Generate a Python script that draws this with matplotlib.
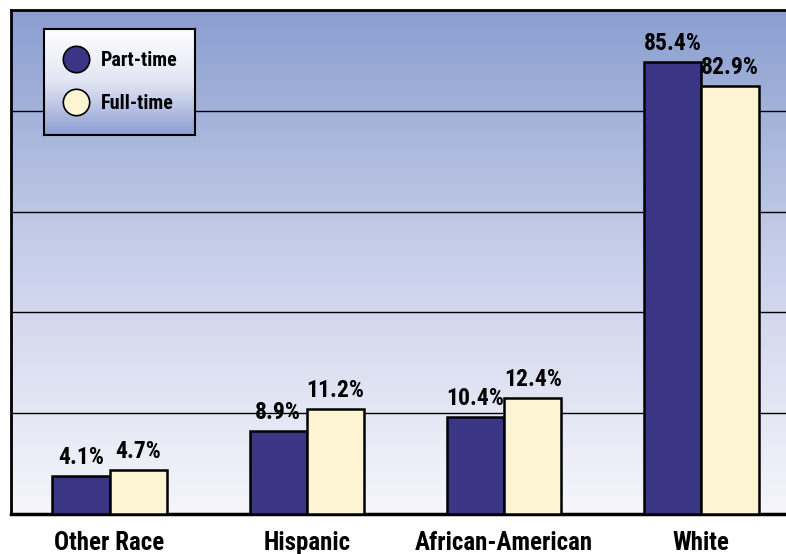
import numpy as np
import matplotlib
matplotlib.use("Agg")
import matplotlib.pyplot as plt
from matplotlib.colors import LinearSegmentedColormap
from matplotlib.lines import Line2D

plt.rcParams['font.family'] = ['Liberation Sans Narrow', 'Roboto Condensed',
                               'Liberation Sans', 'DejaVu Sans']
plt.rcParams['font.weight'] = 'bold'

# data
categories = ["Other Race", "Hispanic", "African-American", "White"]
part_time = [4.1, 8.9, 10.4, 85.4]
full_time = [4.7, 11.2, 12.4, 82.9]
series_names = ["Part-time", "Full-time"]

part_color = "#3a3585"
full_color = "#fdf4d3"

# the original chart squeezes the empty middle of the axis
B1, B2, K = 20.0, 80.0, 0.383


def fwd(y):
    y = np.asarray(y, dtype=float)
    return np.where(y <= B1, y,
                    np.where(y <= B2, B1 + (y - B1) * K,
                             B1 + (B2 - B1) * K + (y - B2)))


def inv(v):
    v = np.asarray(v, dtype=float)
    mid = B1 + (B2 - B1) * K
    return np.where(v <= B1, v,
                    np.where(v <= mid, B1 + (v - B1) / K, B2 + (v - mid)))


fig = plt.figure(figsize=(7.86, 5.54), dpi=100)
ax = fig.add_axes([11 / 786, 40 / 554, 789 / 786, 504 / 554])
ax.set_yscale('function', functions=(fwd, inv))

# gradient background
bg = LinearSegmentedColormap.from_list("bg", ["#f6f6fb", "#c9d0ea", "#8a9ed0"])
ax.imshow(np.linspace(0, 1, 256).reshape(-1, 1), cmap=bg, origin='lower',
          extent=(0, 1, 0, 1), transform=ax.transAxes, aspect='auto', zorder=-2)

x = np.arange(len(categories))
w = 0.29
b1 = ax.bar(x - w / 2, part_time, w, color=part_color, edgecolor='black',
            linewidth=1.8, zorder=3, label=series_names[0])
b2 = ax.bar(x + w / 2, full_time, w, color=full_color, edgecolor='black',
            linewidth=1.8, zorder=3, label=series_names[1])

for bars, vals in [(b1, part_time), (b2, full_time)]:
    for r, v in zip(bars, vals):
        ax.annotate(f"{v}%", (r.get_x() + r.get_width() / 2, r.get_height()),
                    xytext=(0, 5), textcoords='offset points', ha='center',
                    va='bottom', fontsize=17, fontweight='bold', zorder=4)

ymax = 91
ax.set_xlim(-0.5, 3.5)
ax.set_ylim(0, ymax)
ax.set_yticks(inv(np.linspace(0, fwd(ymax), 6)[1:-1]))
ax.set_yticklabels([])
ax.tick_params(axis='y', length=0)
ax.grid(axis='y', color='black', linewidth=1)
ax.set_axisbelow(True)

ax.set_xticks(x)
ax.set_xticklabels(categories, fontsize=18, fontweight='bold')
ax.tick_params(axis='x', length=0, pad=12)

for s in ['left', 'top']:
    ax.spines[s].set_linewidth(2)
ax.spines['bottom'].set_linewidth(2.5)
ax.spines['right'].set_visible(False)

# legend box with its own gradient
lax = fig.add_axes([44 / 786, 1 - 135 / 554, 151 / 786, 106 / 554])
lg = LinearSegmentedColormap.from_list("lg", ["#8c9ed2", "#e2e5f4", "#ffffff"])
lax.imshow(np.linspace(0, 1, 256).reshape(-1, 1), cmap=lg, origin='lower',
           extent=(0, 1, 0, 1), aspect='auto')
lax.set_xticks([])
lax.set_yticks([])
for s in lax.spines.values():
    s.set_linewidth(1.5)
handles = [Line2D([], [], marker='o', linestyle='none', markersize=19,
                  markerfacecolor=c, markeredgecolor='black', markeredgewidth=1.2)
           for c in [part_color, full_color]]
leg = lax.legend(handles, series_names, loc='center left', frameon=False,
                 prop={'size': 14.5, 'weight': 'bold'}, handlelength=1.2,
                 handletextpad=0.6, labelspacing=1.2, borderaxespad=0.6)

fig.savefig("out.png", dpi=100)
